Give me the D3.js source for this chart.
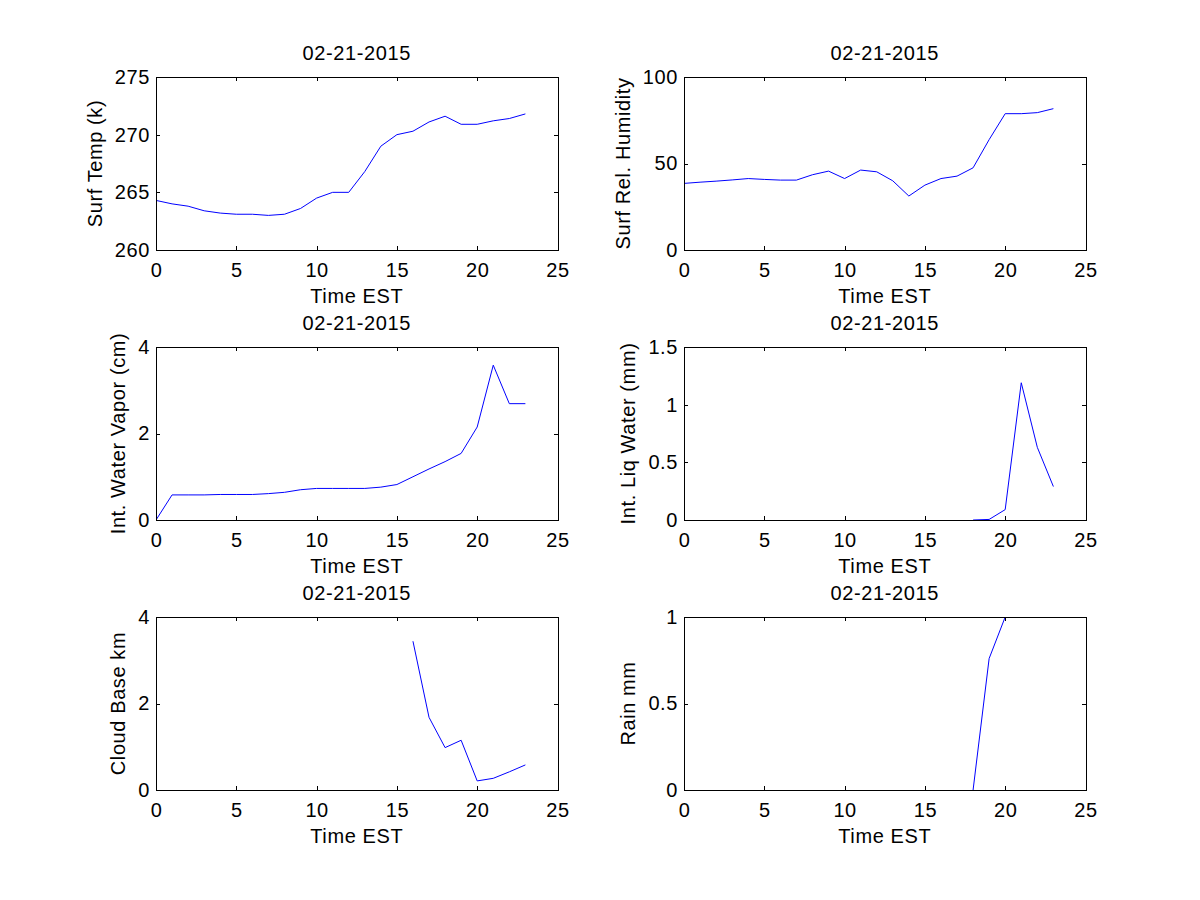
<!DOCTYPE html>
<html>
<head>
<meta charset="utf-8">
<script src="https://cdn.jsdelivr.net/npm/d3@7"></script>
<style>
  body { margin: 0; background: #fff; }
  svg text { font-family: Arial, "Liberation Sans", sans-serif; font-size: 20px; letter-spacing: 0.6px; fill: #000; }
  .axis path, .axis line { stroke: #000; shape-rendering: crispEdges; }
</style>
</head>
<body>
<div id="chart"></div>
<script>
// hours of the day (EST)
const hours = [0, 1, 2, 3, 4, 5, 6, 7, 8, 9, 10, 11, 12, 13, 14, 15, 16, 17, 18, 19, 20, 21, 22, 23];

const surfTemp = [264.3, 264.0, 263.8, 263.4, 263.2, 263.1, 263.1, 263.0, 263.1, 263.6, 264.5, 265.0,
                  265.0, 266.8, 269.0, 270.0, 270.3, 271.1, 271.6, 270.9, 270.9, 271.2, 271.4, 271.8];
const relHumidity = [38.5, 39.2, 39.8, 40.5, 41.3, 40.8, 40.4, 40.4, 43.5, 45.6, 41.3, 46.2,
                     45.2, 40.0, 31.2, 37.5, 41.3, 42.7, 47.5, 63.8, 78.8, 78.8, 79.4, 81.7];
const waterVapor = [0, 0.58, 0.58, 0.58, 0.59, 0.59, 0.59, 0.61, 0.64, 0.70, 0.73, 0.73,
                    0.73, 0.73, 0.76, 0.82, 1.0, 1.18, 1.35, 1.54, 2.15, 3.58, 2.69, 2.69];
const liqWater = [null, null, null, null, null, null, null, null, null, null, null, null,
                  null, null, null, null, null, null, 0, 0.005, 0.09, 1.19, 0.63, 0.29];
const cloudBase = [null, null, null, null, null, null, null, null, null, null, null, null,
                   null, null, null, null, 3.44, 1.68, 0.98, 1.15, 0.21, 0.27, 0.42, 0.58];
const rain = [null, null, null, null, null, null, null, null, null, null, null, null,
              null, null, null, null, null, null, 0, 0.76, 1.0, null, null, null];

const xTicks = [0, 5, 10, 15, 20, 25];
const tempTicks = [260, 265, 270, 275];
const humTicks = [0, 50, 100];
const vaporTicks = [0, 2, 4];
const liqTicks = [0, 0.5, 1, 1.5];
const cloudTicks = [0, 2, 4];
const rainTicks = [0, 0.5, 1];

const dateTitle = "02-21-2015";
const xLabel = "Time EST";

const panels = [
  {values: surfTemp, ticks: tempTicks, label: "Surf Temp (k)", col: 0, row: 0},
  {values: relHumidity, ticks: humTicks, label: "Surf Rel. Humidity", col: 1, row: 0},
  {values: waterVapor, ticks: vaporTicks, label: "Int. Water Vapor (cm)", col: 0, row: 1},
  {values: liqWater, ticks: liqTicks, label: "Int. Liq Water (mm)", col: 1, row: 1},
  {values: cloudBase, ticks: cloudTicks, label: "Cloud Base km", col: 0, row: 2},
  {values: rain, ticks: rainTicks, label: "Rain mm", col: 1, row: 2}
];

const W = 1200, H = 900;
const colLeft = [156, 684];
const rowTop = [77, 347, 617];
const pw = 401.5, ph = 173;

const svg = d3.select("#chart").append("svg")
    .attr("width", W)
    .attr("height", H);

panels.forEach((p, idx) => {
  const g = svg.append("g")
      .attr("transform", "translate(" + colLeft[p.col] + "," + rowTop[p.row] + ")");

  const x = d3.scaleLinear().domain([xTicks[0], xTicks[xTicks.length - 1]]).range([0, pw]);
  const y = d3.scaleLinear().domain([p.ticks[0], p.ticks[p.ticks.length - 1]]).range([ph, 0]);

  g.append("clipPath").attr("id", "clip" + idx)
    .append("rect").attr("width", pw).attr("height", ph);

  const line = d3.line()
      .defined(d => d[1] != null)
      .x(d => x(d[0]))
      .y(d => y(d[1]));

  g.append("path")
      .datum(hours.map((h, i) => [h, p.values[i]]))
      .attr("clip-path", "url(#clip" + idx + ")")
      .attr("fill", "none")
      .attr("stroke", "#0000ff")
      .attr("stroke-width", 1)
      .attr("d", line);

  // box: bottom / left carry labels, top / right ticks only, all ticks inward
  g.append("g").attr("class", "axis")
      .attr("transform", "translate(0," + ph + ")")
      .call(d3.axisBottom(x).tickValues(xTicks).tickSizeInner(-4).tickSizeOuter(0).tickPadding(13));
  g.append("g").attr("class", "axis")
      .call(d3.axisTop(x).tickValues(xTicks).tickSizeInner(-4).tickSizeOuter(0).tickFormat(""));
  const left = g.append("g").attr("class", "axis")
      .call(d3.axisLeft(y).tickValues(p.ticks).tickSizeInner(-4).tickSizeOuter(0).tickPadding(6)
        .tickFormat(d3.format("")));
  g.append("g").attr("class", "axis")
      .attr("transform", "translate(" + pw + ",0)")
      .call(d3.axisRight(y).tickValues(p.ticks).tickSizeInner(-4).tickSizeOuter(0).tickFormat(""));

  g.selectAll(".axis text").attr("font-size", null).attr("font-family", null);

  g.append("text")
      .attr("x", pw / 2)
      .attr("y", -17)
      .attr("text-anchor", "middle")
      .text(dateTitle);

  g.append("text")
      .attr("x", pw / 2)
      .attr("y", ph + 53)
      .attr("text-anchor", "middle")
      .text(xLabel);

  // y label sits left of the widest tick label
  let minX = 0;
  left.selectAll("text").each(function() {
    minX = Math.min(minX, this.getBBox().x);
  });
  g.append("text")
      .attr("transform", "translate(" + (minX - 13) + "," + (ph / 2) + ") rotate(-90)")
      .attr("text-anchor", "middle")
      .text(p.label);
});
</script>
</body>
</html>
